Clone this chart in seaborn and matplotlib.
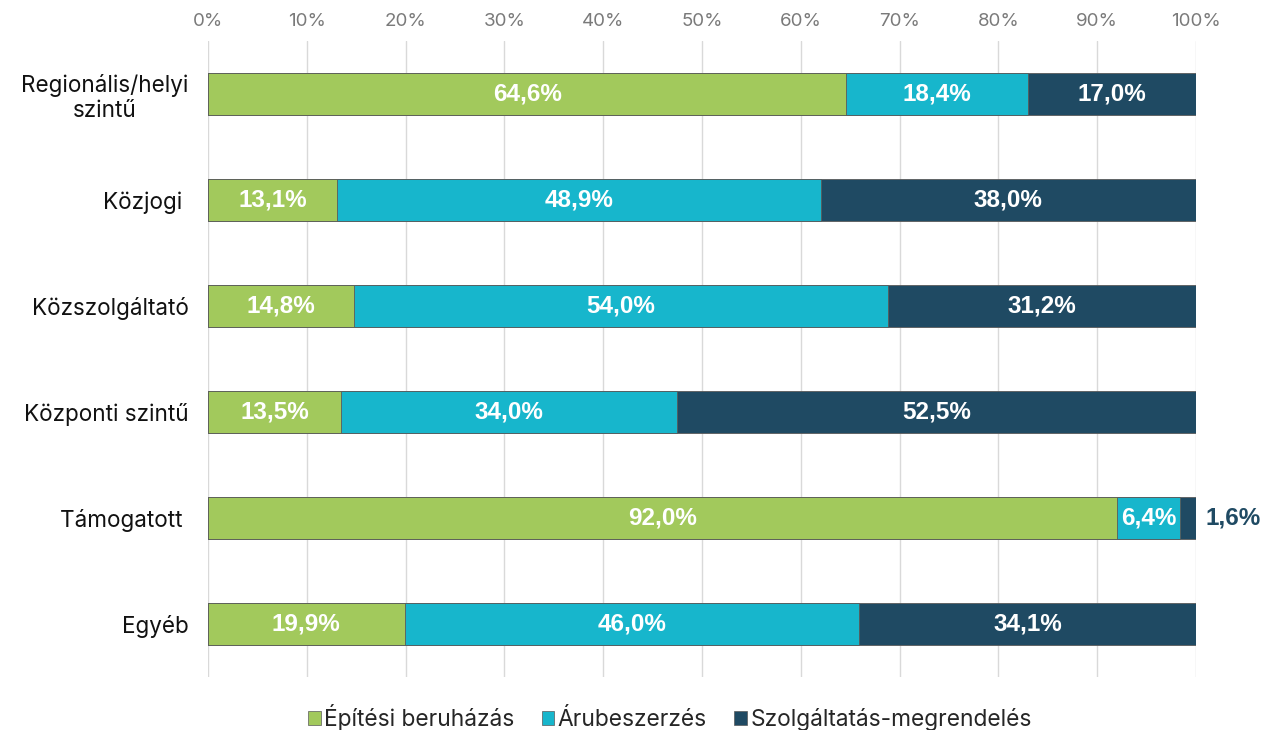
import numpy as np
import pandas as pd
import seaborn as sns
import matplotlib.pyplot as plt
from matplotlib.ticker import FuncFormatter, MultipleLocator

categories = ['Regionális/helyi\nszintű', 'Közjogi ', 'Közszolgáltató', 'Központi szintű',
              'Támogatott ', 'Egyéb']
epitesi = [64.6, 13.1, 14.8, 13.5, 92.0, 19.9]
arubeszerzes = [18.4, 48.9, 54.0, 34.0, 6.4, 46.0]
szolgaltatas = [17.0, 38.0, 31.2, 52.5, 1.6, 34.1]
series_names = ['Építési beruházás', 'Árubeszerzés', 'Szolgáltatás-megrendelés']
colors = ['#a2c95c', '#17b6cc', '#1f4a63']

df = pd.DataFrame({'cat': categories, 'a': epitesi, 'b': arubeszerzes, 'c': szolgaltatas})
df['cum_a'] = df['a']
df['cum_b'] = df['a'] + df['b']
df['cum_c'] = df['a'] + df['b'] + df['c']

sns.set_style('white')
plt.rcParams['font.family'] = ['Inter', 'DejaVu Sans']

fig = plt.figure(figsize=(12.64, 7.30), dpi=100)
ax = fig.add_axes([0.1646, 0.0726, 0.7816, 0.8712])

# stacked bars: draw cumulative totals back to front
for col, color in zip(['cum_c', 'cum_b', 'cum_a'], colors[::-1]):
    sns.barplot(data=df, x=col, y='cat', orient='h', color=color, width=0.4,
                edgecolor='#5a5a5a', linewidth=0.6, ax=ax, zorder=3, saturation=1)

# value labels
for i, row in df.iterrows():
    starts = [0, row['cum_a'], row['cum_b']]
    vals = [row['a'], row['b'], row['c']]
    for s, v in zip(starts, vals):
        txt = f'{v:.1f}%'.replace('.', ',')
        if v < 3:
            ax.text(101, i, txt, ha='left', va='center', color=colors[2],
                    fontsize=17.5, fontweight='bold', family='Liberation Sans', zorder=5)
        else:
            ax.text(s + v / 2, i, txt, ha='center', va='center', color='white',
                    fontsize=17.5, fontweight='bold', family='Liberation Sans', zorder=5)

ax.set_xlim(0, 100)
ax.set_ylim(5.5, -0.5)
ax.xaxis.set_major_locator(MultipleLocator(10))
ax.xaxis.set_major_formatter(FuncFormatter(lambda x, p: f'{x:.0f}%'))
ax.xaxis.tick_top()
ax.tick_params(axis='x', length=0, labelsize=13.5, labelcolor='#7a7a7a', pad=8)
ax.tick_params(axis='y', length=0, labelsize=16.2, labelcolor='#111111', pad=14)
for lbl in ax.get_yticklabels():
    lbl.set_multialignment('center')
ax.grid(axis='x', color='#d9d9d9', linewidth=1, zorder=0)
ax.set_axisbelow(True)
ax.set_xlabel('')
ax.set_ylabel('')
for sp in ax.spines.values():
    sp.set_visible(False)

handles = [plt.Rectangle((0, 0), 1, 1, facecolor=c, edgecolor='#5a5a5a', linewidth=0.5)
           for c in colors]
fig.legend(handles, series_names, loc='center', bbox_to_anchor=(0.53, 0.017), ncol=3,
           frameon=False, fontsize=16.4, handlelength=0.55, handleheight=0.55,
           handletextpad=0.15, columnspacing=1.2)

fig.savefig('out.png', dpi=100)
